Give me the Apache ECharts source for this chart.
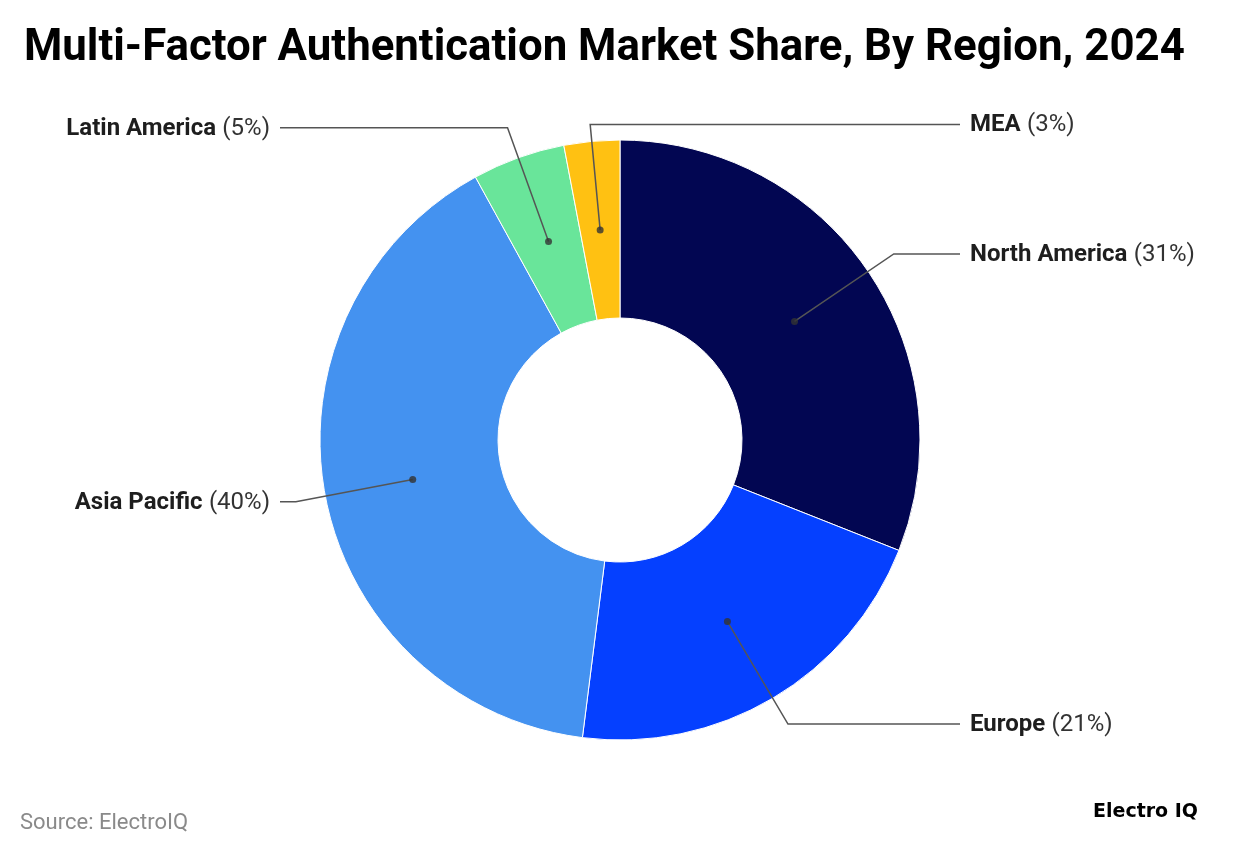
<!DOCTYPE html>
<html>
<head>
<meta charset="utf-8">
<script src="https://cdn.jsdelivr.net/npm/echarts@6/dist/echarts.min.js"></script>
<style>
html,body{margin:0;padding:0;background:#fff;}
#chart{width:1240px;height:856px;}
</style>
</head>
<body>
<div id="chart"></div>
<script>
const regions = ['North America', 'Europe', 'Asia Pacific', 'Latin America', 'MEA'];
const shares = [31, 21, 40, 5, 3];
const colors = ['#020652', '#0540FF', '#4492F0', '#69E59A', '#FFC112'];
const titleText = 'Multi-Factor Authentication Market Share, By Region, 2024';
const sourceText = 'Source: ElectroIQ';
const brandText = 'Electro IQ';

// layout settings (not data)
const labelSides = ['right', 'right', 'left', 'left', 'right'];
const firstSegLen = [120, 119, 119, 121, 106];
const CX = 620, CY = 440, R_OUT = 300, R_IN = 122, R_DOT = 211;
const RIGHT_LINE_END = 960, LEFT_LINE_END = 280, TEXT_GAP = 10;

const chart = echarts.init(document.getElementById('chart'));

let cum = 0;
const dotData = shares.map(v => { const mid = cum + v / 2; cum += v; return [R_DOT, mid]; });
const total = shares.reduce((a, b) => a + b, 0);

const option = {
  backgroundColor: '#fff',
  animation: false,
  title: {
    text: titleText, left: 19, top: 22,
    textStyle: { fontFamily: 'Roboto', fontWeight: 'bold', fontSize: 43.8, color: '#000' }
  },
  graphic: [
    { type: 'text', left: 20, top: 812, style: { text: sourceText, font: '22px Roboto', fill: '#8a8a8a' } },
    { type: 'text', right: 42, top: 803, style: { text: brandText, font: 'bold 19px "DejaVu Sans"', fill: '#000' } }
  ],
  polar: { center: [CX, CY], radius: R_OUT },
  angleAxis: { type: 'value', min: 0, max: total, startAngle: 90, clockwise: true, show: false },
  radiusAxis: { type: 'value', min: 0, max: R_OUT, show: false },
  series: [
    {
      type: 'pie', center: [CX, CY], radius: [R_IN, R_OUT], startAngle: 90, clockwise: true,
      silent: true, label: { show: false }, labelLine: { show: false },
      itemStyle: { borderColor: '#fff', borderWidth: 1 },
      data: regions.map((n, i) => ({ name: n, value: shares[i], itemStyle: { color: colors[i] } })),
      z: 1
    },
    {
      type: 'pie', center: [CX, CY], radius: [0, R_DOT], startAngle: 90, clockwise: true,
      silent: true, avoidLabelOverlap: false,
      itemStyle: { color: 'rgba(0,0,0,0)', borderWidth: 0 },
      emphasis: { disabled: true },
      label: {
        show: true, position: 'outside', formatter: '{n|{b}} {p|({c}%)}',
        rich: {
          n: { fontFamily: 'Roboto', fontWeight: 'bold', fontSize: 24, color: '#1e1e1e', padding: [0, 3, 0, 0] },
          p: { fontFamily: 'Roboto', fontSize: 24, color: '#333' }
        }
      },
      labelLine: { show: true, length: 120, length2: 10, lineStyle: { color: '#555', width: 1.5 } },
      labelLayout: function (params) {
        const i = params.dataIndex;
        const pts = params.labelLinePoints;
        if (!pts) return {};
        const p0 = pts[0], p1 = pts[1];
        const right = labelSides[i] === 'right';
        const endX = right ? RIGHT_LINE_END : LEFT_LINE_END;
        return {
          x: right ? endX + TEXT_GAP : endX - TEXT_GAP,
          y: p1[1] + 1,
          align: right ? 'left' : 'right',
          verticalAlign: 'middle',
          labelLinePoints: [p0, p1, [endX, p1[1]]]
        };
      },
      data: regions.map((n, i) => ({ name: n, value: shares[i], labelLine: { length: firstSegLen[i] } })),
      z: 3
    },
    {
      type: 'scatter', coordinateSystem: 'polar', symbol: 'circle', symbolSize: 7, silent: true,
      itemStyle: { color: '#333' }, data: dotData, z: 5
    }
  ]
};
chart.setOption(option);
</script>
</body>
</html>
